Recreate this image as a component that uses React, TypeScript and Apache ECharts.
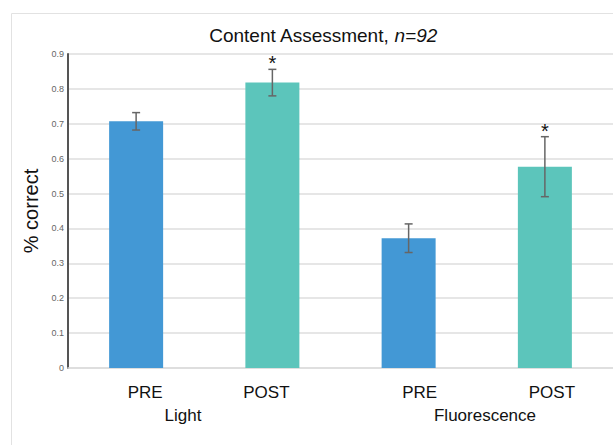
import React, { useEffect, useRef } from "react";
import * as echarts from "echarts";

const categories = ["PRE", "POST", "PRE", "POST"];
const groups = ["Light", "Fluorescence"];
const means = [0.707, 0.818, 0.372, 0.577];
const errors = [0.025, 0.038, 0.041, 0.086];
const significant = [false, true, false, true];
const yTicks = [0, 0.1, 0.2, 0.3, 0.4, 0.5, 0.6, 0.7, 0.8, 0.9];

const FONT = "'Liberation Sans', Arial, Helvetica, sans-serif";
const BLUE = "#4398d5";
const TEAL = "#5cc5bb";

export default function App() {
  const ref = useRef<HTMLDivElement>(null);
  useEffect(() => {
    if (!ref.current) return;
    const chart = echarts.init(ref.current, undefined, { renderer: "svg" });
    const labelPad = [
      [0, 0, 0, 18],
      [0, 12, 0, 0],
      [0, 0, 0, 22],
      [0, 0, 0, 14],
    ];
    const rich: any = {};
    labelPad.forEach((p, i) => {
      rich["p" + i] = { padding: p, fontSize: 17, color: "#111", fontFamily: FONT };
    });
    chart.setOption({
      animation: false,
      backgroundColor: "#fff",
      title: {
        text: "{a|Content Assessment, }{b|n=92}",
        left: 318,
        textAlign: "center",
        top: 21,
        textStyle: {
          rich: {
            a: { fontSize: 19, color: "#111", fontFamily: FONT, fontWeight: "normal" },
            b: { fontSize: 19, color: "#111", fontFamily: FONT, fontStyle: "italic", fontWeight: "normal" },
          },
        },
      },
      graphic: [
        {
          type: "rect",
          shape: { x: 11.5, y: 13.5, width: 700, height: 500 },
          style: { fill: "none", stroke: "#e2e2e2", lineWidth: 1 },
          silent: true,
          z: -10,
        },
        {
          type: "text",
          x: 183,
          y: 415,
          style: {
            text: groups[0],
            fontSize: 17,
            fill: "#111",
            fontFamily: FONT,
            align: "center",
            verticalAlign: "middle",
          },
        },
        {
          type: "text",
          x: 485,
          y: 415,
          style: {
            text: groups[1],
            fontSize: 17,
            fill: "#111",
            fontFamily: FONT,
            align: "center",
            verticalAlign: "middle",
          },
        },
      ],
      grid: { left: 68, top: 54, bottom: 77, width: 546 },
      xAxis: {
        type: "category",
        data: categories,
        axisLine: { lineStyle: { color: "#dcdcdc", width: 1.5 } },
        axisTick: { show: false },
        axisLabel: {
          margin: 16,
          formatter: (v: string, i: number) => `{p${i}|${v}}`,
          rich,
        },
      },
      yAxis: {
        type: "value",
        min: 0,
        max: yTicks[yTicks.length - 1],
        interval: 0.1,
        name: "% correct",
        nameLocation: "middle",
        nameRotate: 90,
        nameGap: 23,
        nameTextStyle: { fontSize: 20, color: "#111", fontFamily: FONT },
        axisLine: { show: true, lineStyle: { color: "#555", width: 2 } },
        axisTick: { show: false },
        axisLabel: {
          fontSize: 9,
          color: "#666",
          fontFamily: FONT,
          margin: 4,
          formatter: (v: number) => (v === 0 ? "0" : v.toFixed(1)),
        },
        splitLine: { lineStyle: { color: "#dedede", width: 1.5 } },
      },
      series: [
        {
          type: "bar",
          barWidth: 54,
          data: means.map((m, i) => ({
            value: m,
            itemStyle: { color: i % 2 === 0 ? BLUE : TEAL },
          })),
        },
        {
          type: "custom",
          z: 5,
          data: means.map((m, i) => [i, m - errors[i], m + errors[i], significant[i] ? 1 : 0]),
          renderItem: (params: any, api: any) => {
            const x = api.value(0);
            const lo = api.coord([x, api.value(1)]);
            const hi = api.coord([x, api.value(2)]);
            const cap = 4;
            const style = { stroke: "#666", lineWidth: 1.5 };
            const children: any[] = [
              { type: "line", shape: { x1: hi[0], y1: hi[1], x2: lo[0], y2: lo[1] }, style },
              { type: "line", shape: { x1: hi[0] - cap, y1: hi[1], x2: hi[0] + cap, y2: hi[1] }, style },
              { type: "line", shape: { x1: lo[0] - cap, y1: lo[1], x2: lo[0] + cap, y2: lo[1] }, style },
            ];
            if (api.value(3) === 1) {
              children.push({
                type: "text",
                x: hi[0],
                y: hi[1] - 6,
                style: {
                  text: "*",
                  fontSize: 20,
                  fill: "#111",
                  fontFamily: FONT,
                  align: "center",
                  verticalAlign: "middle",
                },
              });
            }
            return { type: "group", children };
          },
        },
      ],
    });
    return () => chart.dispose();
  }, []);
  return (
    <div
      ref={ref}
      style={{ position: "fixed", left: 0, top: 0, width: 613, height: 445 }}
    />
  );
}
